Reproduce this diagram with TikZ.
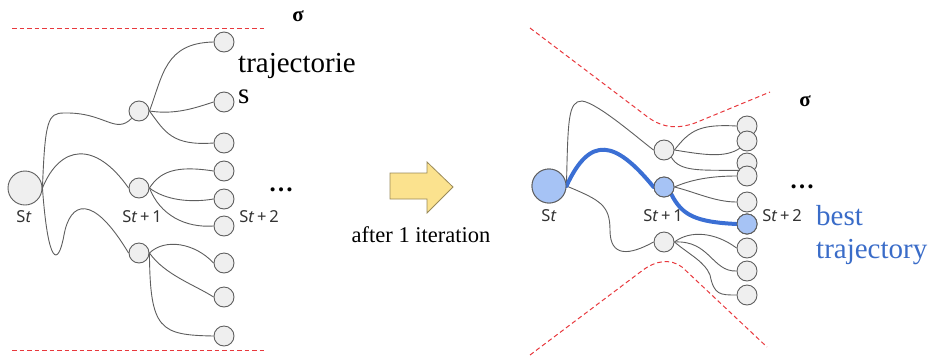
\documentclass[tikz,border=0pt]{standalone}
\usepackage{fontspec}
\setmainfont{Liberation Serif}
\newfontfamily\lblfont{Noto Sans}
\usetikzlibrary{calc}

\definecolor{nodefill}{HTML}{EFEFEF}
\definecolor{nodeline}{HTML}{5E5E5E}
\definecolor{bluefill}{HTML}{A6C3F5}
\definecolor{bluepath}{HTML}{3B6FD4}
\definecolor{bluetext}{HTML}{3A6CC8}
\definecolor{reddash}{HTML}{E8383D}
\definecolor{arrowfill}{HTML}{FBE28E}
\definecolor{arrowline}{HTML}{9A8A5A}

\tikzset{
  state/.style={circle, draw=nodeline, fill=nodefill, line width=0.9pt, minimum size=20pt, inner sep=0pt},
  rootstate/.style={state, minimum size=34pt},
  chosen/.style={fill=bluefill},
  branch/.style={draw=nodeline, line width=0.9pt},
  bestpath/.style={draw=bluepath, line width=4pt, line cap=round},
  bound/.style={draw=reddash, line width=1pt, dash pattern=on 4.5pt off 3pt},
  steplabel/.style={font=\lblfont\fontsize{16.5}{18}\selectfont, text=black!80, inner sep=0pt},
  bigtext/.style={font=\fontsize{29}{32}\selectfont, inner sep=0pt},
  sigmatext/.style={font=\bfseries\fontsize{21}{24}\selectfont, inner sep=0pt},
  dotstext/.style={font=\bfseries\fontsize{25}{28}\selectfont, inner sep=0pt}
}

\newcommand{\stlabel}[1]{S\textit{t}#1}

\begin{document}
\begin{tikzpicture}[x=1pt, y=-1pt]
\useasboundingbox (0,0) rectangle (931,357);

% ---------------- left: full tree ----------------
\draw[bound] (12,28) -- (267,28);
\draw[bound] (12,350) -- (267,350);

\node[rootstate] (r0) at (25,188) {};
\node[state] (a1) at (139,111) {};
\node[state] (a2) at (139,188) {};
\node[state] (a3) at (139,253) {};
\foreach \n/\y in {1/42,2/102,3/143,4/171,5/199,6/226,7/263,8/297,9/336}
  \node[state] (b\n) at (224,\y) {};

\path[branch] (r0.east) .. controls (45,120) and (48,113) .. (64,113)
   .. controls (105,112) and (115,135) .. (a1.south west);
\path[branch] (r0.east) .. controls (60,145) and (95,140) .. (a2.west);
\path[branch] (r0.east) .. controls (48,265) and (58,268) .. (64,235)
   .. controls (70,202) and (92,192) .. (a3.west);

\path[branch] (a1.east) .. controls (163,75) and (165,43) .. (b1.west);
\path[branch] (a1.east) .. controls (175,115) and (195,108) .. (b2.west);
\path[branch] (a1.east) .. controls (165,132) and (172,146) .. (b3.west);
\path[branch] (a2.east) .. controls (160,172) and (175,165) .. (b4.west);
\path[branch] (a2.east) .. controls (165,200) and (190,203) .. (b5.west);
\path[branch] (a2.east) .. controls (160,215) and (185,228) .. (b6.west);
\path[branch] (a3.east) .. controls (165,238) and (195,243) .. (b7.west);
\path[branch] (a3.east) .. controls (165,275) and (195,285) .. (b8.west);
\path[branch] (a3.east) .. controls (150,330) and (160,335) .. (b9.west);

\node[steplabel] (l0) at (24,217) {\stlabel{}};
\node[steplabel] (l1) at (142,217) {\stlabel{\,+\,1}};
\node[steplabel] (l2) at (259,217) {\stlabel{\,+\,2}};

\node[sigmatext] (sg1) at (298,16) {σ};
\node[bigtext, anchor=base west] (tr1) at (238,72) {trajectorie};
\node[bigtext, anchor=base west] (tr2) at (238,103) {s};
\node[dotstext, anchor=base] (dt1) at (281,191) {…};

% ---------------- middle: iteration arrow ----------------
\draw[fill=arrowfill, draw=arrowline, line width=0.8pt]
  (390,173) -- (427,173) -- (427,162) -- (453,187) -- (427,213) -- (427,199) -- (390,199) -- cycle;
\node[font=\fontsize{22.5}{25}\selectfont, anchor=base, inner sep=0pt] (it) at (421,242) {after 1 iteration};

% ---------------- right: narrowed tree ----------------
\draw[bound] (530,28) -- (645,115) .. controls (660,127) and (675,130) .. (695,123) -- (770,92);
\draw[bound] (530,355) -- (643,270) .. controls (655,261) and (670,258) .. (682,267) -- (767,347);

\node[rootstate, chosen] (R0) at (549,186) {};
\node[state] (A1) at (664,150) {};
\node[state, chosen] (A2) at (664,187) {};
\node[state] (A3) at (664,242) {};
\foreach \n/\y in {1/126,2/141,3/163,4/176,5/202,6/224,7/248,8/271,9/295}
  \node[state] (B\n) at (747,\y) {};
\node[state, chosen] at (B6) {};

\path[branch] (R0.east) .. controls (568,120) and (568,101) .. (582,101)
   .. controls (598,103) and (640,140) .. (A1.west);
\path[branch] (R0.east) .. controls (600,200) and (610,205) .. (610,230)
   .. controls (610,258) and (630,255) .. (A3.west);

\path[branch] (A1.east) .. controls (690,130) and (700,124) .. (B1.west);
\path[branch] (A1.east) .. controls (705,155) and (725,158) .. (B2.south west);
\path[branch] (A1.south east) .. controls (680,172) and (700,170) .. (B3.south west);
\path[branch] (A2.east) .. controls (690,180) and (710,176) .. (B4.west);
\path[branch] (A2.east) .. controls (695,192) and (715,202) .. (B5.west);
\path[branch] (A3.east) .. controls (690,230) and (715,232) .. (B7.west);
\path[branch] (A3.east) .. controls (710,240) and (712,272) .. (B8.west);
\path[branch] (A3.east) .. controls (690,255) and (705,262) .. (710,275)
   .. controls (714,295) and (720,295) .. (B9.west);

% best trajectory, drawn over the branches
\path[bestpath] (R0.east) .. controls (590,135) and (615,140) .. (A2.west);
\path[bestpath] (A2.south east) .. controls (682,215) and (695,222) .. (B6.west);
\node[state, chosen] at (A2) {};
\node[state, chosen] at (B6) {};
\node[rootstate, chosen] at (R0) {};

\node[steplabel] (L0) at (549,216) {\stlabel{}};
\node[steplabel] (L1) at (663,216) {\stlabel{\,+\,1}};
\node[steplabel] (L2) at (782,216) {\stlabel{\,+\,2}};

\node[sigmatext] (sg2) at (805,101) {σ};
\node[dotstext, anchor=base] (dt2) at (802,188) {…};
\node[bigtext, text=bluetext, anchor=base west] (bt1) at (816,225) {best};
\node[bigtext, text=bluetext, anchor=base west] (bt2) at (816,258) {trajectory};
\end{tikzpicture}
\end{document}
